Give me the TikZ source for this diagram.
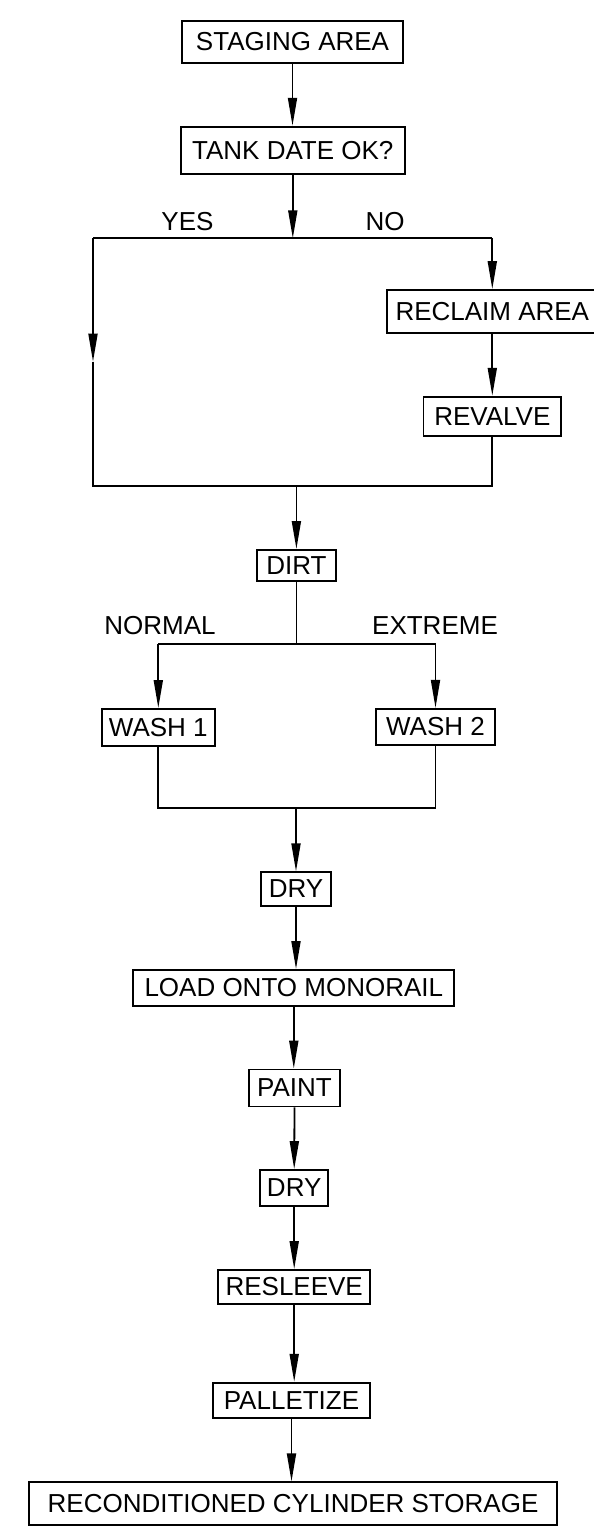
\documentclass[tikz,border=0pt]{standalone}
\usepackage{fontspec}
\setmainfont{Liberation Sans}
\usetikzlibrary{arrows.meta}
\begin{document}
\begin{tikzpicture}[x=1pt,y=-1pt,
  box/.style={draw, line width=1.8pt, inner sep=0pt, font=\fontsize{26}{30}\selectfont},
  lbl/.style={inner sep=0pt, font=\fontsize{26}{30}\selectfont},
  conn/.style={line width=1.8pt},
  arr/.style={line width=1.8pt, -{Triangle[length=28pt,width=9pt]}}]
\useasboundingbox (0,0) rectangle (594,1527);

% boxes
\node[box, minimum width=221.6pt, minimum height=42pt] (staging) at (292.5,41.7) {STAGING AREA};
\node[box, minimum width=224.3pt, minimum height=47.3pt] (tank) at (292.8,150.3) {TANK DATE OK?};
\node[box, minimum width=211.3pt, minimum height=43pt] (reclaim) at (492.3,311.5) {RECLAIM AREA};
\node[box, minimum width=137.7pt, minimum height=39.3pt] (revalve) at (492.3,416.3) {REVALVE};
\node[box, minimum width=78.7pt, minimum height=30.7pt] (dirt) at (296.4,565.3) {DIRT};
\node[box, minimum width=113.3pt, minimum height=36.7pt] (wash1) at (158.3,727.3) {WASH 1};
\node[box, minimum width=118.3pt, minimum height=36pt] (wash2) at (435.5,726.8) {WASH 2};
\node[box, minimum width=69.4pt, minimum height=33.4pt] (dry1) at (296,889) {DRY};
\node[box, minimum width=321pt, minimum height=35.7pt] (load) at (293.8,987.8) {LOAD ONTO MONORAIL};
\node[box, minimum width=91pt, minimum height=37pt] (paint) at (294.5,1088) {PAINT};
\node[box, minimum width=68.3pt, minimum height=36pt] (dry2) at (294.2,1188) {DRY};
\node[box, minimum width=152.3pt, minimum height=34pt] (resleeve) at (294.2,1287) {RESLEEVE};
\node[box, minimum width=157.6pt, minimum height=35.6pt] (palletize) at (291.5,1400.5) {PALLETIZE};
\node[box, minimum width=528pt, minimum height=42.7pt] (recon) at (293,1503.7) {RECONDITIONED CYLINDER STORAGE};

% labels
\node[lbl] (yes) at (187.5,221.7) {YES};
\node[lbl] (no) at (385,221.7) {NO};
\node[lbl] (normal) at (160,626) {NORMAL};
\node[lbl] (extreme) at (435,626) {EXTREME};

% junction coordinates
\coordinate (j1) at (292.8,238.3);
\coordinate (hl) at (93,238.3);
\coordinate (hr) at (492.3,238.3);
\coordinate (ymid) at (93,361.7);
\coordinate (bl) at (93,485.7);
\coordinate (br) at (492.3,485.7);
\coordinate (j2) at (296.4,485.7);
\coordinate (j3) at (296.4,644.3);
\coordinate (nl) at (158.3,644.3);
\coordinate (nr) at (435.5,644.3);
\coordinate (ml) at (158.3,808.3);
\coordinate (mr) at (435.5,808.3);
\coordinate (j4) at (296,808.3);

% connectors
\draw[arr] (staging.south) -- (staging.south |- tank.north);
\draw[arr] (tank.south) -- (j1);
\draw[conn] (hl) -- (hr);
\draw[arr] (hr) -- (reclaim.north);
\draw[arr] (reclaim.south) -- (revalve.north);
\draw[arr] (hl) -- (ymid);
\draw[conn] (ymid) -- (bl) -- (br) -- (revalve.south);
\draw[arr] (j2) -- (dirt.north);
\draw[conn] (dirt.south) -- (j3);
\draw[conn] (nl) -- (nr);
\draw[arr] (nl) -- (wash1.north);
\draw[arr] (nr) -- (wash2.north);
\draw[conn] (wash1.south) -- (ml) -- (mr) -- (wash2.south);
\draw[arr] (j4) -- (dry1.north);
\draw[arr] (dry1.south) -- (dry1.south |- load.north);
\draw[arr] (load.south) -- (load.south |- paint.north);
\draw[arr] (paint.south) -- (dry2.north);
\draw[arr] (dry2.south) -- (resleeve.north);
\draw[arr] (resleeve.south) -- (resleeve.south |- palletize.north);
\draw[arr] (palletize.south) -- (palletize.south |- recon.north);
\end{tikzpicture}
\end{document}
